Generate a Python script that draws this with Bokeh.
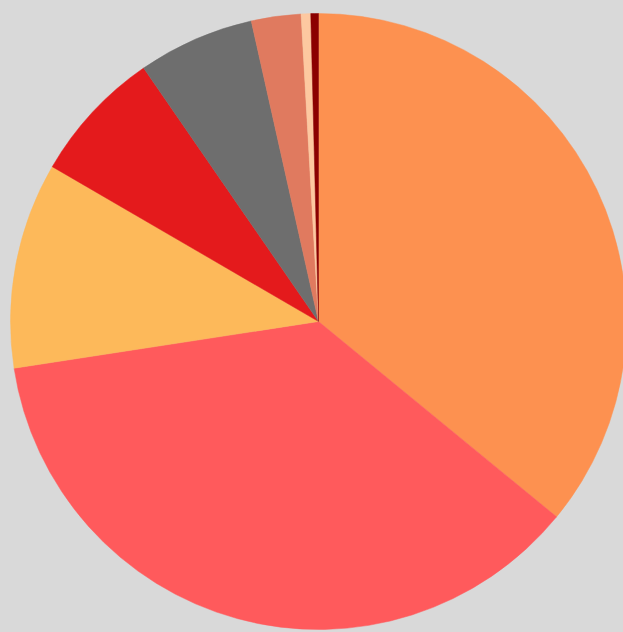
import numpy as np
from bokeh.plotting import figure
from bokeh.models import Range1d, ColumnDataSource
from bokeh.embed import file_html
from bokeh.resources import INLINE

# slice shares (percent), clockwise from 12 o'clock
categories = ["A", "B", "C", "D", "E", "F", "G", "H"]
values = [35.9, 36.6, 10.8, 7.0, 6.1, 2.6, 0.5, 0.4]
colors = ["#fd9150", "#ff5a5c", "#fdb95a", "#e41a1c", "#6e6e6e", "#e07a5f", "#fdc8a0", "#8b0000"]

BG = "#d9d9d9"
W, H = 623, 632

p = figure(width=W, height=H, output_backend="svg", toolbar_location=None,
           x_range=Range1d(0, W), y_range=Range1d(-H, 0),
           min_border=0, background_fill_color=BG, border_fill_color=BG)
p.axis.visible = False
p.grid.visible = False
p.outline_line_color = None

vals = np.array(values, dtype=float)
frac = vals / vals.sum()
cum = np.concatenate([[0], np.cumsum(frac)])
start = np.pi / 2 - cum[:-1] * 2 * np.pi
end = np.pi / 2 - cum[1:] * 2 * np.pi

src = ColumnDataSource(dict(cat=categories, start=start, end=end, color=colors,
                            x=[318] * len(values), y=[-321] * len(values)))
p.wedge(x="x", y="y", radius=308, start_angle="start", end_angle="end",
        direction="clock", fill_color="color", line_color="color", line_width=0.5,
        source=src)

html = file_html(p, INLINE)
html = html.replace("</head>", "<style>html,body{background:%s !important;}</style></head>" % BG, 1)
open("out.html", "w").write(html)
